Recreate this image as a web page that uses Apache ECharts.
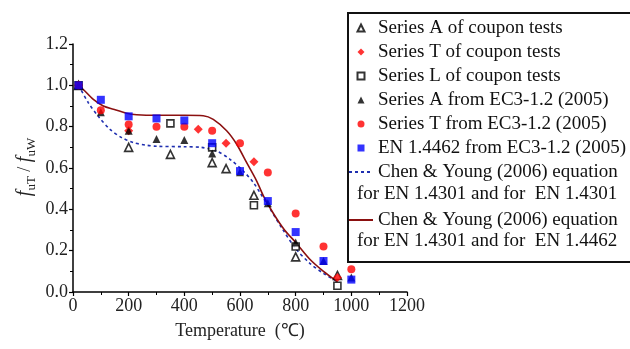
<!DOCTYPE html>
<html>
<head>
<meta charset="utf-8">
<script src="https://cdn.jsdelivr.net/npm/echarts@6/dist/echarts.min.js"></script>
<style>html,body{margin:0;padding:0;background:#fff;}#c{width:630px;height:349px;}</style>
</head>
<body>
<div id="c"></div>
<script>
// ---- data ----
const xTicks = [0, 200, 400, 600, 800, 1000, 1200];
const yTicks = [0.0, 0.2, 0.4, 0.6, 0.8, 1.0, 1.2];

const couponA = [[20, 1.0], [200, 0.70], [350, 0.666], [500, 0.626], [550, 0.597], [650, 0.468], [800, 0.17], [950, 0.08]];
const couponT = [[20, 1.0], [200, 0.78], [450, 0.787], [550, 0.72], [650, 0.63], [950, 0.07]];
const couponL = [[20, 1.0], [350, 0.816], [500, 0.70], [650, 0.42], [800, 0.22], [950, 0.03]];
const ec3A = [[20, 1.0], [100, 0.87], [200, 0.78], [300, 0.74], [400, 0.735], [500, 0.67], [600, 0.58], [700, 0.43], [800, 0.24], [900, 0.15], [1000, 0.07]];
const ec3T = [[20, 1.0], [100, 0.88], [200, 0.81], [300, 0.80], [400, 0.80], [500, 0.78], [600, 0.72], [700, 0.578], [800, 0.38], [900, 0.22], [1000, 0.11]];
const en4462 = [[20, 1.0], [100, 0.93], [200, 0.85], [300, 0.84], [400, 0.83], [500, 0.72], [600, 0.585], [700, 0.44], [800, 0.29], [900, 0.15], [1000, 0.06]];
const chen4301 = [[20, 1.0], [55, 0.916], [91, 0.85], [133, 0.787], [175, 0.747], [217, 0.723], [265, 0.71], [300, 0.705], [400, 0.703], [460, 0.70], [516, 0.682], [564, 0.642], [612, 0.585], [648, 0.53], [672, 0.48], [700, 0.42], [750, 0.31], [800, 0.21], [850, 0.14], [900, 0.09], [950, 0.05]];
const chen4462 = [[20, 1.0], [37, 0.98], [73, 0.932], [109, 0.90], [145, 0.884], [193, 0.865], [229, 0.858], [300, 0.855], [400, 0.855], [468, 0.853], [504, 0.835], [552, 0.78], [588, 0.715], [624, 0.626], [660, 0.537], [684, 0.465], [720, 0.38], [760, 0.30], [800, 0.24], [850, 0.16], [900, 0.10], [950, 0.05]];

const names = [
  'Series A of coupon tests',
  'Series T of coupon tests',
  'Series L of coupon tests',
  'Series A from EC3-1.2 (2005)',
  'Series T from EC3-1.2 (2005)',
  'EN 1.4462 from EC3-1.2 (2005)',
  'Chen & Young (2006) equation',
  'Chen & Young (2006) equation '
];
const secondLines = ['for EN 1.4301 and for  EN 1.4301', 'for EN 1.4301 and for  EN 1.4462'];

const FONT = '"Liberation Serif", "Times New Roman", serif';
const legendText = {fontFamily: FONT, fontSize: 19, color: '#111', lineHeight: 24};
const hideSym = {color: 'rgba(0,0,0,0)', borderWidth: 0};

const chart = echarts.init(document.getElementById('c'), null, {renderer: 'canvas'});
const option = {
  backgroundColor: '#fff',
  animation: false,
  grid: {left: 73, right: 223, top: 44, bottom: 57, containLabel: false},
  xAxis: {
    type: 'value', min: 0, max: 1200, interval: 200,
    axisLine: {show: true, lineStyle: {color: '#000', width: 1.5}},
    axisTick: {show: true, length: 4, lineStyle: {color: '#000', width: 1.2}},
    minorTick: {show: true, splitNumber: 2, length: 3, lineStyle: {color: '#000', width: 1}},
    splitLine: {show: false},
    axisLabel: {margin: 5, color: '#222', fontFamily: FONT, fontSize: 18,
      formatter: v => xTicks.includes(v) ? String(v) : ''}
  },
  yAxis: {
    type: 'value', min: 0, max: 1.2, interval: 0.2,
    axisLine: {show: true, lineStyle: {color: '#000', width: 1.5}},
    axisTick: {show: true, length: 4, lineStyle: {color: '#000', width: 1.2}},
    minorTick: {show: true, splitNumber: 2, length: 3, lineStyle: {color: '#000', width: 1}},
    splitLine: {show: false},
    axisLabel: {margin: 5, color: '#222', fontFamily: FONT, fontSize: 18,
      formatter: v => yTicks.some(t => Math.abs(t - v) < 1e-9) ? v.toFixed(1) : ''}
  },
  legend: [
    {
      orient: 'vertical', left: 356.5, top: 16, padding: 0, itemGap: 0,
      itemWidth: 7, itemHeight: 7, z: 20,
      textStyle: Object.assign({padding: [0, 0, 0, 8.5]}, legendText),
      data: names.slice(0, 6)
    },
    {
      orient: 'vertical', left: 348, top: 160, padding: 0, itemGap: 0,
      itemWidth: 24, itemHeight: 7, z: 20,
      textStyle: legendText,
      data: [{name: names[6], itemStyle: hideSym}]
    },
    {
      orient: 'vertical', left: 348, top: 208, padding: 0, itemGap: 0,
      itemWidth: 24, itemHeight: 7, z: 20,
      textStyle: legendText,
      data: [{name: names[7], itemStyle: hideSym}]
    }
  ],
  graphic: [
    {type: 'rect', z: 10, shape: {x: 348, y: 13, width: 300, height: 249},
      style: {fill: '#fff', stroke: '#111', lineWidth: 2}},
    {type: 'text', z: 20, left: 357, top: 185,
      style: {text: secondLines[0], fontFamily: FONT, fontSize: 19, fill: '#111'}},
    {type: 'text', z: 20, left: 357, top: 232,
      style: {text: secondLines[1], fontFamily: FONT, fontSize: 19, fill: '#111'}},
    {type: 'text', z: 20, x: 25, y: 167, rotation: Math.PI / 2,
      style: {
        text: '{i|f}{s|uT}{n| / }{i|f}{s|uW}',
        align: 'center', verticalAlign: 'middle',
        rich: {
          i: {fontFamily: FONT, fontStyle: 'italic', fontSize: 20, lineHeight: 26, verticalAlign: 'middle', fill: '#222'},
          s: {fontFamily: FONT, fontSize: 13, lineHeight: 26, verticalAlign: 'bottom', fill: '#222'},
          n: {fontFamily: FONT, fontSize: 18, lineHeight: 26, verticalAlign: 'middle', fill: '#222'}
        }
      }},
    {type: 'text', z: 20, x: 240, y: 331,
      style: {text: 'Temperature  (\u2103)', fontFamily: FONT, fontSize: 18, fill: '#222', align: 'center', verticalAlign: 'middle'}}
  ],
  series: [
    {name: names[0], type: 'scatter', data: couponA, symbol: 'triangle', symbolSize: 8, z: 3,
      itemStyle: {color: '#fff', borderColor: '#000', borderWidth: 1.6}},
    {name: names[1], type: 'scatter', data: couponT, symbol: 'diamond', symbolSize: 9, z: 3,
      itemStyle: {color: '#ff0000'}},
    {name: names[2], type: 'scatter', data: couponL, symbol: 'rect', symbolSize: 7, z: 3,
      itemStyle: {color: '#fff', borderColor: '#000', borderWidth: 1.6}},
    {name: names[3], type: 'scatter', data: ec3A, symbol: 'triangle', symbolSize: 8, z: 3,
      itemStyle: {color: '#000'}},
    {name: names[4], type: 'scatter', data: ec3T, symbol: 'circle', symbolSize: 8, z: 3,
      itemStyle: {color: '#ff0000'}},
    {name: names[5], type: 'scatter', data: en4462, symbol: 'rect', symbolSize: 8, z: 3,
      itemStyle: {color: '#0000ff'}},
    {name: names[6], type: 'line', data: chen4301, symbol: 'none', smooth: 0.3, z: 2,
      lineStyle: {color: '#1f2fb0', width: 1.6, type: [3, 3]}, itemStyle: {color: '#1f2fb0'}},
    {name: names[7], type: 'line', data: chen4462, symbol: 'none', smooth: 0.3, z: 2,
      lineStyle: {color: '#8b1010', width: 1.6}, itemStyle: {color: '#8b1010'}}
  ]
};
chart.setOption(option);
</script>
</body>
</html>
